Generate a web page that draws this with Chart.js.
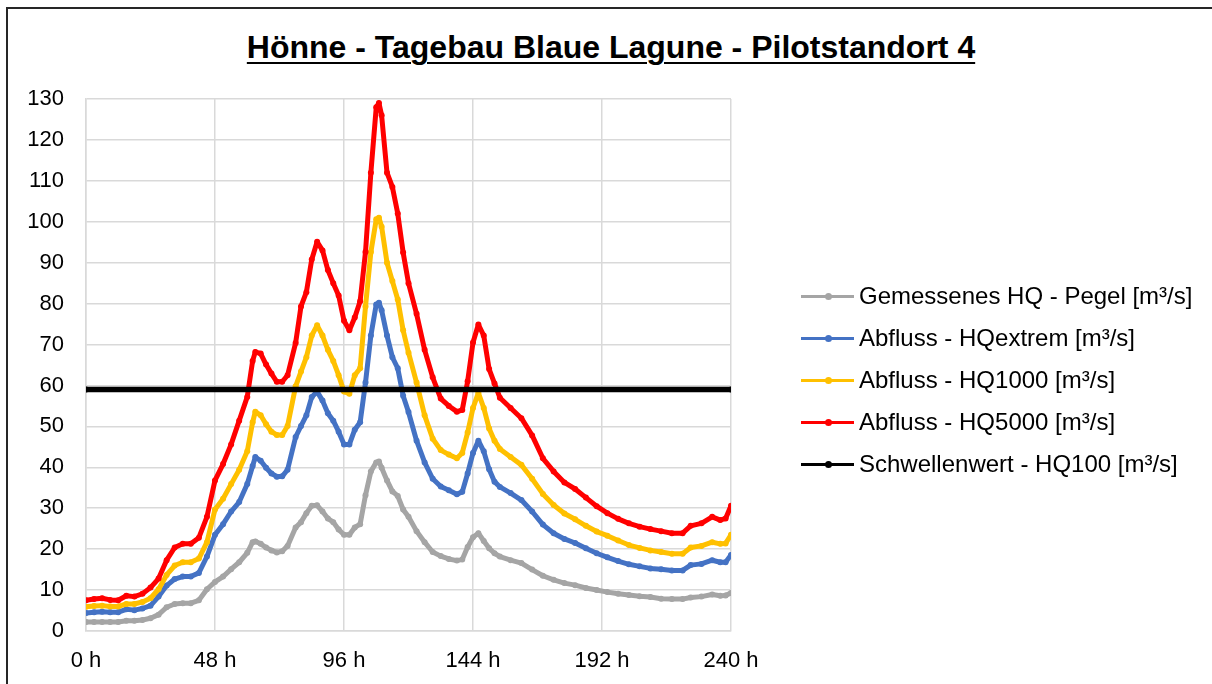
<!DOCTYPE html>
<html>
<head>
<meta charset="utf-8">
<script src="https://cdn.jsdelivr.net/npm/chart.js@4.4.1/dist/chart.umd.min.js"></script>
<style>
    html, body { margin: 0; padding: 0; background: #fff; }
    body { width: 1212px; height: 684px; position: relative; overflow: hidden; font-family: Arial, "Liberation Sans", sans-serif; }
    #frame { position: absolute; left: 6px; top: 7px; width: 1300px; height: 800px; border-left: 2px solid #262626; border-top: 2px solid #262626; }
    #title { position: absolute; left: 0; width: 1222px; top: 29px; text-align: center; font-weight: bold; font-size: 32px; text-decoration: underline; text-decoration-thickness: 2px; text-underline-offset: 4px; color: #000; }
    #chartBox { position: absolute; left: 0; top: 0; width: 1212px; height: 684px; }
    #legend { position: absolute; left: 801px; top: 280px; }
    .item { position: relative; height: 42px; line-height: 32px; font-size: 24px; color: #000; white-space: nowrap; }
    .item .ln { position: absolute; left: 0; top: 15px; width: 53px; height: 3px; }
    .item .dot { position: absolute; left: 24px; top: 13px; width: 7px; height: 7px; border-radius: 50%; }
    .item span { position: absolute; left: 58px; top: 0; }
</style>
</head>
<body>
<div id="frame"></div>
<div id="title">Hönne - Tagebau Blaue Lagune - Pilotstandort 4</div>
<div id="chartBox"><canvas id="flowChart"></canvas></div>
<div id="legend"></div>

<script>
// Stunden (x-Achse)
const hours = [
    0, 3, 6, 9, 12, 15, 18, 21, 24, 27,
    30, 33, 36, 39, 42, 45, 48, 51, 54, 57,
    60, 62, 63, 65, 67, 69, 71, 73, 75, 78,
    80, 82, 84, 86, 88, 90, 92, 94, 96, 98,
    100, 102, 104, 106, 108, 109, 110, 112, 114, 116,
    118, 120, 123, 126, 129, 132, 135, 138, 140, 142,
    144, 146, 148, 150, 152, 154, 158, 162, 166, 170,
    174, 178, 182, 186, 190, 194, 198, 202, 206, 210,
    214, 218, 222, 225, 229, 233, 236, 238, 240
];

// Gemessenes HQ - Pegel
const pegel = [
    2.2, 2.2, 2.2, 2.2, 2.2, 2.5, 2.5, 2.7, 3.1, 4.0,
    5.8, 6.6, 6.8, 6.8, 7.5, 10.2, 12.0, 13.3, 15.1, 16.8,
    19.1, 21.7, 21.9, 21.3, 20.4, 19.7, 19.2, 19.5, 20.8, 25.3,
    26.6, 28.8, 30.6, 30.7, 29.2, 27.5, 26.6, 24.8, 23.5, 23.5,
    25.3, 26.1, 33.2, 39.0, 41.2, 41.4, 39.9, 36.8, 34.1, 33.0,
    29.7, 27.9, 24.4, 21.7, 19.3, 18.3, 17.6, 17.2, 17.5, 20.5,
    22.9, 23.9, 22.0, 20.2, 19.0, 18.2, 17.3, 16.6, 15.0, 13.5,
    12.5, 11.7, 11.2, 10.5, 10.0, 9.5, 9.1, 8.8, 8.5, 8.3,
    7.9, 7.8, 7.8, 8.2, 8.4, 8.9, 8.6, 8.7, 9.3
];

// Abfluss - HQextrem
const hqExtrem = [
    4.4, 4.6, 4.7, 4.6, 4.6, 5.3, 5.1, 5.5, 6.2, 8.4,
    11.1, 12.7, 13.3, 13.3, 14.2, 18.2, 23.5, 26.1, 29.2, 31.5,
    35.9, 40.3, 42.5, 41.6, 39.9, 38.5, 37.7, 37.8, 39.4, 47.4,
    50.1, 52.7, 57.2, 58.5, 56.3, 53.2, 51.4, 48.7, 45.6, 45.6,
    49.2, 51.0, 60.7, 72.2, 79.8, 80.2, 78.4, 72.2, 66.9, 64.2,
    57.5, 53.5, 46.5, 41.2, 37.2, 35.3, 34.4, 33.4, 34.0, 38.5,
    43.5, 46.5, 43.9, 39.5, 36.5, 35.2, 33.7, 32.0, 29.2, 26.0,
    23.9, 22.5, 21.5, 20.2, 19.0, 18.0, 17.1, 16.3, 15.8, 15.3,
    15.1, 14.8, 14.8, 16.1, 16.4, 17.3, 16.8, 16.8, 18.6
];

// Abfluss - HQ1000
const hq1000 = [
    5.9, 6.1, 6.2, 6.0, 6.0, 6.6, 6.6, 7.1, 8.0, 10.2,
    13.7, 16.0, 16.8, 16.8, 17.7, 21.7, 29.7, 32.3, 35.9, 39.4,
    43.9, 51.0, 53.6, 52.7, 50.5, 48.7, 47.9, 47.9, 50.1, 59.8,
    63.4, 66.9, 72.2, 74.7, 72.2, 68.7, 66.0, 62.5, 58.5, 58.0,
    62.5, 64.2, 79.3, 92.6, 100.6, 101.0, 98.8, 90.0, 85.5, 81.0,
    73.5, 68.0, 60.7, 52.7, 47.0, 44.2, 43.1, 42.2, 43.5, 48.5,
    54.5, 58.2, 54.5, 49.5, 46.5, 44.5, 42.5, 40.6, 37.2, 33.5,
    30.8, 28.7, 27.3, 25.7, 24.3, 23.3, 22.1, 21.0, 20.3, 19.7,
    19.3, 18.9, 18.9, 20.4, 20.8, 21.7, 21.3, 21.4, 23.5
];

// Abfluss - HQ5000
const hq5000 = [
    7.5, 7.8, 8.0, 7.6, 7.5, 8.6, 8.4, 9.1, 10.6, 12.8,
    17.3, 20.4, 21.3, 21.3, 22.8, 27.9, 36.8, 40.8, 45.6, 51.4,
    57.2, 66.0, 68.2, 67.8, 65.1, 62.9, 60.9, 60.9, 62.5, 70.4,
    79.3, 82.8, 90.8, 95.1, 93.0, 88.2, 85.0, 82.0, 75.8, 73.5,
    76.6, 80.6, 92.6, 112.0, 128.0, 129.0, 126.0, 112.0, 108.5, 102.0,
    92.5, 85.0, 77.5, 68.7, 62.0, 56.8, 55.0, 53.6, 54.0, 61.0,
    70.5, 74.9, 72.2, 64.0, 60.5, 57.0, 54.5, 52.0, 47.8, 42.2,
    39.0, 36.3, 34.7, 32.6, 30.5, 28.8, 27.4, 26.3, 25.5, 24.9,
    24.4, 23.9, 23.9, 25.7, 26.3, 27.9, 27.1, 27.5, 30.6
];

// Schwellenwert - HQ100
const thresholdHours = [0, 240];
const thresholdValues = [59, 59];

const xTicks = [0, 48, 96, 144, 192, 240];

const seriesInfo = [
    { label: 'Gemessenes HQ - Pegel [m³/s]', color: '#A5A5A5', x: hours, y: pegel, order: 5 },
    { label: 'Abfluss - HQextrem [m³/s]', color: '#4472C4', x: hours, y: hqExtrem, order: 4 },
    { label: 'Abfluss - HQ1000 [m³/s]', color: '#FFC000', x: hours, y: hq1000, order: 3 },
    { label: 'Abfluss - HQ5000 [m³/s]', color: '#FF0000', x: hours, y: hq5000, order: 2 },
    { label: 'Schwellenwert - HQ100 [m³/s]', color: '#000000', x: thresholdHours, y: thresholdValues, order: 1 }
];

function toPoints(xs, ys) {
    return xs.map((h, i) => ({ x: h, y: ys[i] }));
}

const tickFont = { family: 'Arial, "Liberation Sans", sans-serif', size: 22 };

const ctx = document.getElementById('flowChart').getContext('2d');
const flowChart = new Chart(ctx, {
    type: 'line',
    data: {
        datasets: seriesInfo.map(s => ({
            label: s.label,
            data: toPoints(s.x, s.y),
            borderColor: s.color,
            backgroundColor: s.color,
            pointBackgroundColor: s.color,
            pointBorderWidth: 0,
            pointRadius: 3,
            borderWidth: s.order === 1 ? 5.5 : 5,
            borderCapStyle: 'round',
            borderJoinStyle: 'round',
            tension: 0,
            fill: false,
            order: s.order
        }))
    },
    options: {
        responsive: true,
        maintainAspectRatio: false,
        animation: false,
        layout: { padding: { left: 0, top: 99, right: 481, bottom: 10 } },
        plugins: {
            legend: { display: false },
            title: { display: false },
            tooltip: { enabled: false }
        },
        scales: {
            x: {
                type: 'linear',
                min: 0,
                max: 240,
                afterBuildTicks: axis => { axis.ticks = xTicks.map(v => ({ value: v })); },
                afterFit: axis => { axis.height = 43; },
                ticks: {
                    font: tickFont,
                    color: '#000',
                    padding: 17,
                    maxRotation: 0,
                    callback: v => v + ' h'
                },
                grid: { color: '#d9d9d9', lineWidth: 1.5, drawTicks: false },
                border: { color: '#d9d9d9', width: 1.5 }
            },
            y: {
                min: 0,
                max: 130,
                afterFit: axis => { axis.width = 86; },
                ticks: {
                    stepSize: 10,
                    font: tickFont,
                    color: '#000',
                    padding: 22
                },
                grid: { color: '#d9d9d9', lineWidth: 1.5, drawTicks: false },
                border: { color: '#d9d9d9', width: 1.5 }
            }
        }
    }
});

// Legende
const legend = document.getElementById('legend');
seriesInfo.forEach(s => {
    const item = document.createElement('div');
    item.className = 'item';
    item.innerHTML = '<div class="ln" style="background:' + s.color + '"></div>' +
        '<div class="dot" style="background:' + s.color + '"></div>' +
        '<span>' + s.label + '</span>';
    legend.appendChild(item);
});
</script>
</body>
</html>
